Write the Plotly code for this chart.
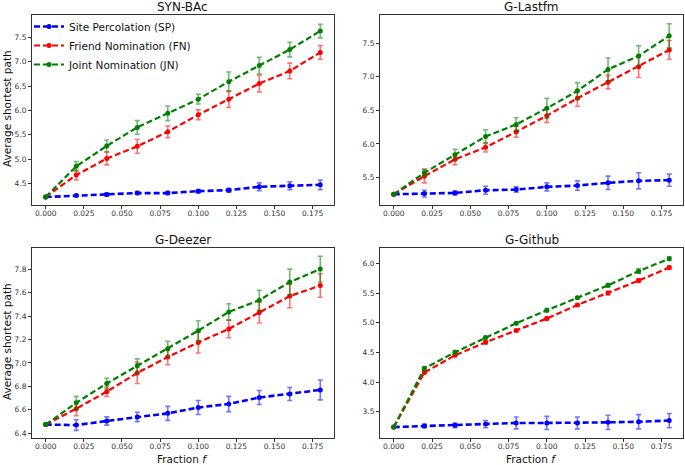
import plotly.graph_objects as go

fractions = [0.0, 0.02, 0.04, 0.06, 0.08, 0.10, 0.12, 0.14, 0.16, 0.18]
series_names = ["Site Percolation (SP)", "Friend Nomination (FN)", "Joint Nomination (JN)"]
panel_titles = ["SYN-BAc", "G-Lastfm", "G-Deezer", "G-Github"]

# SYN-BAc
syn_sp = [4.22, 4.25, 4.27, 4.30, 4.30, 4.34, 4.36, 4.43, 4.45, 4.47]
syn_sp_err = [0.0, 0.02, 0.03, 0.03, 0.03, 0.03, 0.04, 0.08, 0.08, 0.10]
syn_fn = [4.22, 4.67, 5.01, 5.26, 5.56, 5.91, 6.23, 6.55, 6.81, 7.19]
syn_fn_err = [0.0, 0.10, 0.13, 0.14, 0.12, 0.10, 0.17, 0.17, 0.16, 0.14]
syn_jn = [4.22, 4.85, 5.27, 5.65, 5.94, 6.23, 6.59, 6.92, 7.25, 7.63]
syn_jn_err = [0.0, 0.10, 0.12, 0.14, 0.15, 0.10, 0.20, 0.17, 0.15, 0.14]

# G-Lastfm
lfm_sp = [5.25, 5.26, 5.27, 5.31, 5.32, 5.36, 5.38, 5.42, 5.45, 5.46]
lfm_sp_err = [0.0, 0.05, 0.03, 0.06, 0.04, 0.06, 0.07, 0.10, 0.12, 0.09]
lfm_fn = [5.25, 5.52, 5.77, 5.95, 6.18, 6.42, 6.68, 6.92, 7.15, 7.40]
lfm_fn_err = [0.0, 0.10, 0.08, 0.07, 0.08, 0.10, 0.12, 0.10, 0.16, 0.14]
lfm_jn = [5.25, 5.57, 5.84, 6.11, 6.29, 6.53, 6.79, 7.11, 7.31, 7.61]
lfm_jn_err = [0.0, 0.05, 0.08, 0.10, 0.10, 0.15, 0.12, 0.17, 0.15, 0.18]

# G-Deezer
dzr_sp = [6.475, 6.47, 6.505, 6.54, 6.57, 6.62, 6.65, 6.705, 6.735, 6.77]
dzr_sp_err = [0.0, 0.045, 0.035, 0.04, 0.06, 0.06, 0.065, 0.06, 0.055, 0.085]
dzr_fn = [6.475, 6.61, 6.755, 6.915, 7.05, 7.175, 7.29, 7.43, 7.57, 7.66]
dzr_fn_err = [0.0, 0.06, 0.04, 0.09, 0.065, 0.09, 0.075, 0.09, 0.10, 0.10]
dzr_jn = [6.475, 6.66, 6.825, 6.975, 7.12, 7.275, 7.435, 7.535, 7.69, 7.80]
dzr_jn_err = [0.0, 0.055, 0.045, 0.06, 0.065, 0.085, 0.07, 0.085, 0.11, 0.11]

# G-Github
gh_sp = [3.24, 3.26, 3.27, 3.29, 3.31, 3.31, 3.31, 3.32, 3.33, 3.35]
gh_sp_err = [0.0, 0.03, 0.04, 0.06, 0.10, 0.11, 0.10, 0.12, 0.12, 0.12]
gh_fn = [3.24, 4.16, 4.45, 4.67, 4.87, 5.07, 5.30, 5.50, 5.71, 5.93]
gh_fn_err = [0.0, 0.02, 0.02, 0.03, 0.02, 0.03, 0.02, 0.03, 0.03, 0.03]
gh_jn = [3.24, 4.23, 4.50, 4.75, 4.99, 5.21, 5.42, 5.63, 5.87, 6.08]
gh_jn_err = [0.0, 0.03, 0.03, 0.02, 0.02, 0.03, 0.02, 0.03, 0.04, 0.03]

panels = [
    [(syn_sp, syn_sp_err), (syn_fn, syn_fn_err), (syn_jn, syn_jn_err)],
    [(lfm_sp, lfm_sp_err), (lfm_fn, lfm_fn_err), (lfm_jn, lfm_jn_err)],
    [(dzr_sp, dzr_sp_err), (dzr_fn, dzr_fn_err), (dzr_jn, dzr_jn_err)],
    [(gh_sp, gh_sp_err), (gh_fn, gh_fn_err), (gh_jn, gh_jn_err)],
]

W, H = 685, 465
colors = ["rgb(0,0,255)", "rgb(255,0,0)", "rgb(0,128,0)"]
err_colors = ["rgba(0,0,255,0.55)", "rgba(255,0,0,0.55)", "rgba(0,128,0,0.55)"]
widths = [2.6, 2.2, 2.2]

# pixel boxes: left, right, top, bottom
boxes = [(32, 334, 15, 205), (380, 683, 15, 205), (32, 334, 248, 438), (380, 683, 248, 438)]
yranges = [[4.055, 7.96], [5.09, 7.92], [6.36, 7.98], [3.056, 6.26]]
ydticks = [0.5, 0.5, 0.2, 0.5]
y0ticks = [4.5, 5.5, 6.4, 3.5]

fig = go.Figure()
font_family = "DejaVu Sans"
for p, data in enumerate(panels):
    ax = "" if p == 0 else str(p + 1)
    for s, (vals, errs) in enumerate(data):
        fig.add_trace(go.Scatter(
            x=fractions, y=vals, mode="lines+markers",
            name=series_names[s], showlegend=(p == 0),
            line=dict(color=colors[s], width=widths[s], dash="6px,3px"),
            marker=dict(color=colors[s], size=5),
            error_y=dict(type="data", array=errs, visible=True,
                         color=err_colors[s], thickness=1.6, width=2.5),
            xaxis="x" + ax, yaxis="y" + ax,
        ))
    l, r, t, b = boxes[p]
    axis_common = dict(showline=True, mirror=True, linecolor="#333", linewidth=1,
                       ticks="outside", ticklen=3, tickcolor="#333",
                       showgrid=False, zeroline=False,
                       tickfont=dict(family=font_family, size=7.5, color="#333"))
    fig.layout["xaxis" + ax] = dict(
        domain=[l / W, r / W], range=[-0.009, 0.189], anchor="y" + ax,
        tickmode="array", tickvals=[0, 0.025, 0.05, 0.075, 0.1, 0.125, 0.15, 0.175],
        ticktext=["0.000", "0.025", "0.050", "0.075", "0.100", "0.125", "0.150", "0.175"],
        ticklabelstandoff=-2,
        **axis_common)
    fig.layout["yaxis" + ax] = dict(
        domain=[1 - b / H, 1 - t / H], range=yranges[p], anchor="x" + ax,
        tick0=y0ticks[p], dtick=ydticks[p], tickformat=".1f",
        **axis_common)
    fig.add_annotation(text=panel_titles[p], x=(l + r) / 2 / W, y=1 - (t - 8) / H,
                       xref="paper", yref="paper", showarrow=False,
                       font=dict(family=font_family, size=12, color="#111"),
                       xanchor="center", yanchor="middle")

# axis labels
for yc in [109, 342]:
    fig.add_annotation(text="Average shortest path", x=7 / W, y=1 - yc / H,
                       xref="paper", yref="paper", showarrow=False, textangle=-90,
                       font=dict(family=font_family, size=10.5, color="#111"),
                       xanchor="center", yanchor="middle")
for xc in [183, 531]:
    fig.add_annotation(text="Fraction <i>f</i>", x=xc / W, y=1 - 459 / H,
                       xref="paper", yref="paper", showarrow=False,
                       font=dict(family=font_family, size=10.5, color="#111"),
                       xanchor="center", yanchor="middle")

fig.update_layout(
    width=W, height=H, margin=dict(l=0, r=0, t=0, b=0),
    paper_bgcolor="white", plot_bgcolor="white",
    font=dict(family=font_family),
    legend=dict(x=29 / W, y=1 - 12 / H, xanchor="left", yanchor="top",
                bgcolor="rgba(0,0,0,0)", borderwidth=0,
                font=dict(family=font_family, size=10.5, color="#111"),
                tracegroupgap=0, itemwidth=30),
)

fig.write_html("out.html", config={"displayModeBar": False},
               post_script="document.body.style.margin='0';document.body.style.overflow='hidden';")
